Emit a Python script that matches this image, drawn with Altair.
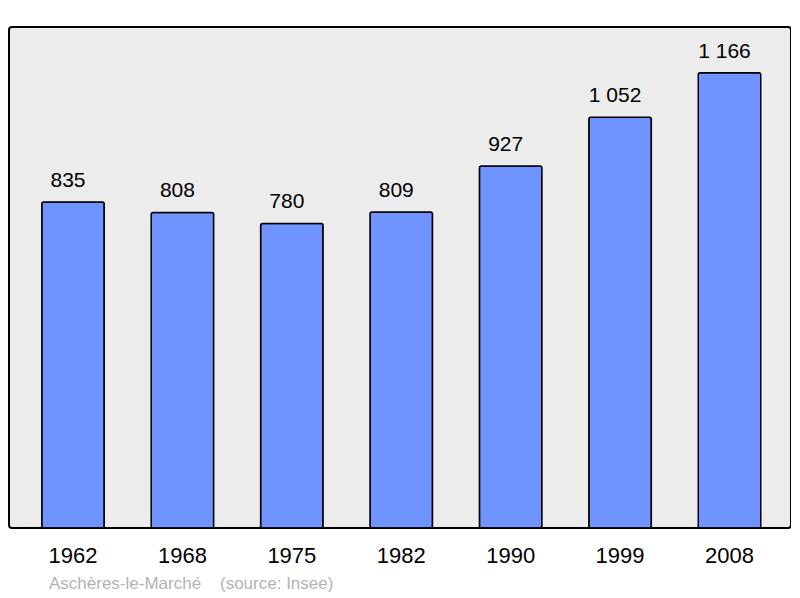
import altair as alt
import pandas as pd

years = ["1962", "1968", "1975", "1982", "1990", "1999", "2008"]
population = [835, 808, 780, 809, 927, 1052, 1166]
labels = ["835", "808", "780", "809", "927", "1 052", "1 166"]
caption = ["Aschères-le-Marché\u00a0\u00a0\u00a0\u00a0(source: Insee)"]

df = pd.DataFrame({"year": years, "pop": population, "label": labels})
cap_df = pd.DataFrame({"text": caption})

FONT = "Liberation Sans"

x = alt.X("year:N", sort=years, title=None,
          scale=alt.Scale(paddingInner=0.429, paddingOuter=0.288, align=0.52),
          axis=alt.Axis(labelAngle=0, labelFontSize=22, labelColor="#000000",
                        labelFont=FONT, labelPadding=17, ticks=False, domain=False))
y = alt.Y("pop:Q", scale=alt.Scale(domain=[0, 1283], nice=False), axis=None)

bars = alt.Chart(df).mark_bar(
    color="#7094ff", stroke="#000000", strokeWidth=1.5,
    cornerRadiusTopLeft=2, cornerRadiusTopRight=2
).encode(x=x, y=y)

text = alt.Chart(df).mark_text(
    baseline="alphabetic", dy=-15, dx=-5, fontSize=21, font=FONT, color="#000000"
).encode(x=x, y=y, text="label:N")

cap = alt.Chart(cap_df).mark_text(
    align="left", baseline="middle", fontSize=17, font=FONT, color="#b3b3b3"
).encode(x=alt.value(40), y=alt.value(557), text="text:N")

chart = alt.layer(bars, text, cap).properties(
    width=782, height=501,
    padding={"left": 1, "top": 19, "right": 0, "bottom": 0}
).configure_view(
    fill="#ececec", stroke="#000000", strokeWidth=2, cornerRadius=3
)

chart.save("out.html", embed_options={"renderer": "svg", "actions": False})
